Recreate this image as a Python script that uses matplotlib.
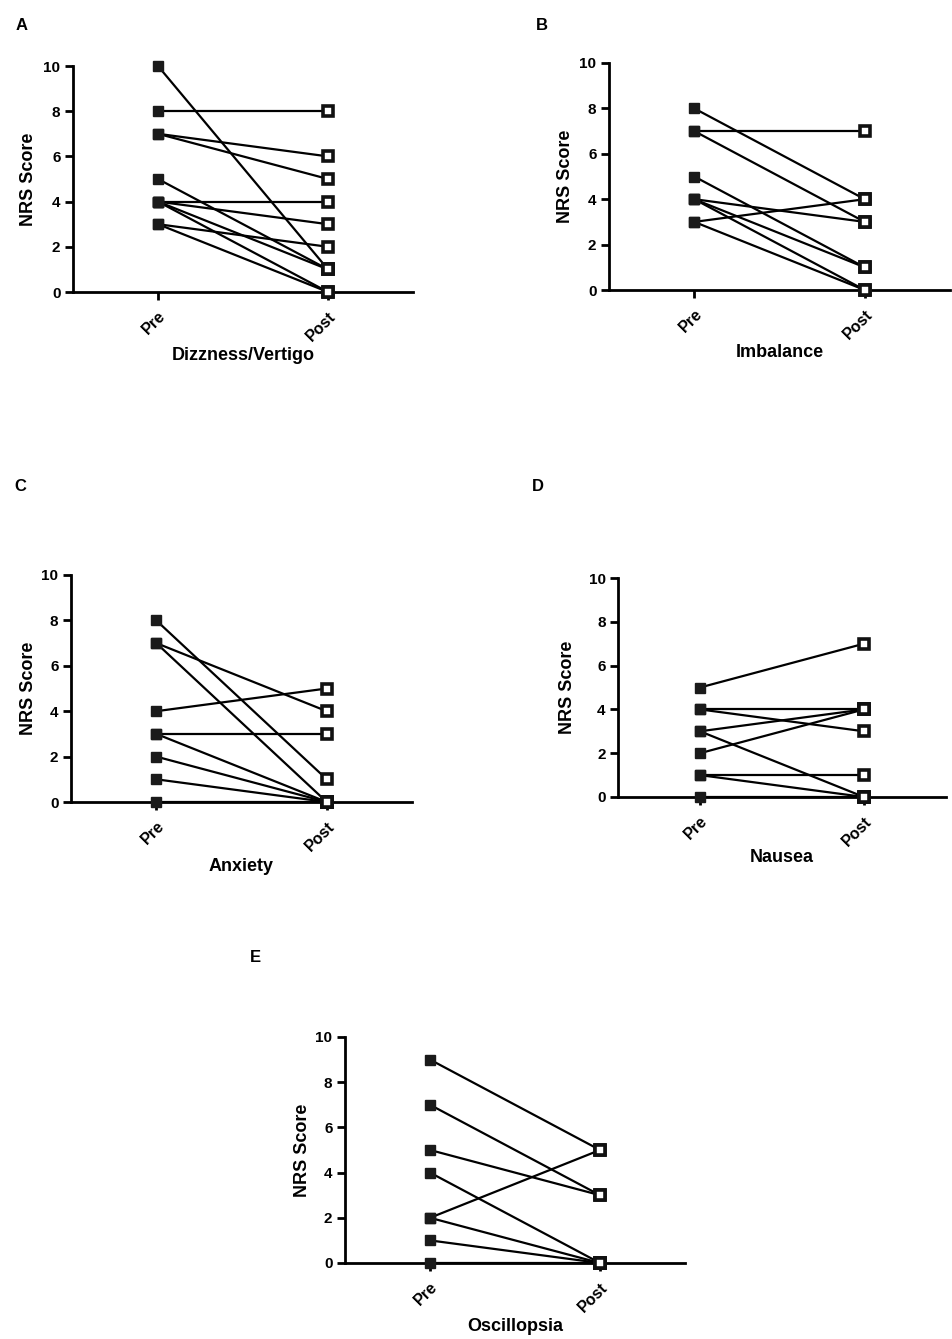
import matplotlib
matplotlib.use("Agg")
import matplotlib.pyplot as plt

plt.rcParams['font.family'] = ['Liberation Sans', 'DejaVu Sans']
plt.rcParams['font.weight'] = 'bold'

W, H = 953, 1339

categories = ["Pre", "Post"]

# Panel A: Dizzness/Vertigo
dizz_pre = [10, 8, 7, 7, 5, 4, 4, 4, 4, 3, 3]
dizz_post = [1, 8, 6, 5, 1, 4, 3, 1, 0, 2, 0]
# Panel B: Imbalance
imb_pre = [8, 7, 7, 5, 4, 4, 4, 3, 3]
imb_post = [4, 7, 3, 1, 3, 1, 0, 4, 0]
# Panel C: Anxiety
anx_pre = [8, 7, 7, 4, 3, 3, 2, 1, 0]
anx_post = [1, 4, 0, 5, 3, 0, 0, 0, 0]
# Panel D: Nausea
nau_pre = [5, 4, 4, 3, 3, 2, 1, 1, 0]
nau_post = [7, 4, 3, 4, 0, 4, 1, 0, 0]
# Panel E: Oscillopsia
osc_pre = [9, 7, 5, 4, 2, 2, 1, 0]
osc_post = [5, 3, 3, 0, 5, 0, 0, 0]

yticks = [0, 2, 4, 6, 8, 10]

panels = [
    # letter, title, pre, post, (x_left px, x_right px, y0 px, y10 px), ylabel x, xlabel y, letter pos
    ("A", "Dizzness/Vertigo", dizz_pre, dizz_post, (73, 413, 292, 66), -0.132, -0.283, (22, 25)),
    ("B", "Imbalance", imb_pre, imb_post, (609, 950, 290, 63), -0.129, -0.277, (542, 25)),
    ("C", "Anxiety", anx_pre, anx_post, (71, 412, 802, 575), -0.126, -0.286, (20, 487)),
    ("D", "Nausea", nau_pre, nau_post, (618, 946, 797, 578), -0.155, -0.274, (538, 487)),
    ("E", "Oscillopsia", osc_pre, osc_post, (345, 685, 1263, 1037), -0.126, -0.283, (255, 958)),
]

fig = plt.figure(figsize=(W / 100, H / 100), dpi=100)

for letter, title, pre, post, (xl, xr, y0, y10), ylx, xly, (lx, ly) in panels:
    ax = fig.add_axes([xl / W, 1 - y0 / H, (xr - xl) / W, (y0 - y10) / H])
    for a, b in zip(pre, post):
        ax.plot([1, 2], [a, b], color='black', lw=1.6, zorder=2, clip_on=False)
    ax.plot([1] * len(pre), pre, ls='none', marker='s', ms=7.2, mfc='#1a1a1a',
            mec='#1a1a1a', zorder=3, clip_on=False)
    ax.plot([2] * len(post), post, ls='none', marker='s', ms=7.2, mfc='white',
            mec='#111111', mew=2.6, zorder=3, clip_on=False)
    ax.set_xlim(0.5, 2.5)
    ax.set_ylim(0, 10)
    ax.set_yticks(yticks)
    ax.set_yticklabels([str(t) for t in yticks], fontsize=11, fontweight='bold')
    ax.set_xticks([1, 2])
    ax.set_xticklabels(categories, rotation=45, ha='right', va='top',
                       rotation_mode='anchor', fontsize=11.5, fontweight='bold')
    for s in ['top', 'right']:
        ax.spines[s].set_visible(False)
    for s in ['left', 'bottom']:
        ax.spines[s].set_linewidth(2)
    ax.tick_params(axis='both', direction='out', length=6, width=2, pad=3)
    ax.tick_params(axis='x', pad=6)
    ax.set_ylabel("NRS Score", fontsize=13, fontweight='bold')
    ax.yaxis.label.set_va('center')
    ax.yaxis.set_label_coords(ylx, 0.5)
    ax.set_xlabel(title, fontsize=13, fontweight='bold')
    ax.xaxis.label.set_va('center')
    ax.xaxis.set_label_coords(0.5, xly)
    ax.patch.set_alpha(0)
    fig.text(lx / W, 1 - ly / H, letter, fontsize=12, fontweight='bold',
             ha='center', va='center')

fig.savefig("out.png", dpi=100, facecolor='white')
